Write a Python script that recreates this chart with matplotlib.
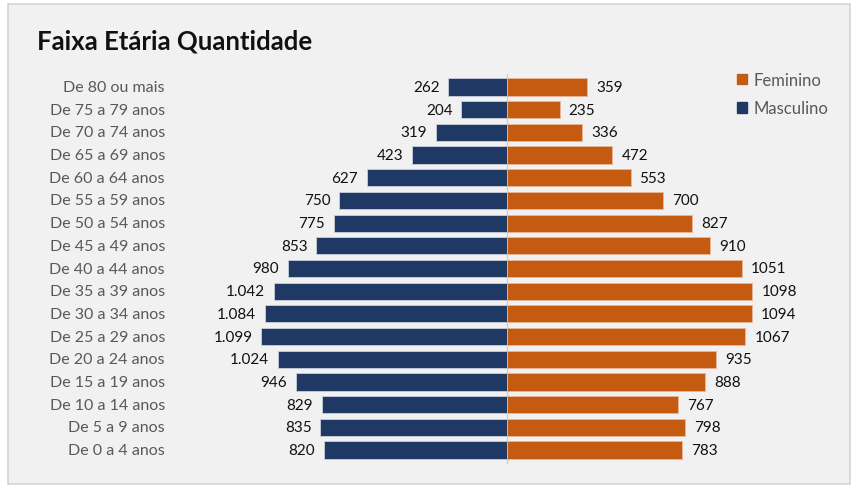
import matplotlib.pyplot as plt
from matplotlib.patches import Rectangle, Patch

# faixas etarias, de baixo para cima
faixas = ['De 0 a 4 anos', 'De 5 a 9 anos', 'De 10 a 14 anos', 'De 15 a 19 anos',
          'De 20 a 24 anos', 'De 25 a 29 anos', 'De 30 a 34 anos', 'De 35 a 39 anos',
          'De 40 a 44 anos', 'De 45 a 49 anos', 'De 50 a 54 anos', 'De 55 a 59 anos',
          'De 60 a 64 anos', 'De 65 a 69 anos', 'De 70 a 74 anos', 'De 75 a 79 anos',
          'De 80 ou mais']
masculino = [820, 835, 829, 946, 1024, 1099, 1084, 1042, 980, 853, 775, 750, 627, 423, 319, 204, 262]
feminino = [783, 798, 767, 888, 935, 1067, 1094, 1098, 1051, 910, 827, 700, 553, 472, 336, 235, 359]
rotulos_masc = ['820', '835', '829', '946', '1.024', '1.099', '1.084', '1.042', '980', '853',
                '775', '750', '627', '423', '319', '204', '262']

COR_MASC = '#203864'
COR_FEM = '#c55a11'
W, H = 854, 489

plt.rcParams['font.family'] = ['Lato', 'DejaVu Sans']

fig = plt.figure(figsize=(W / 100, H / 100), dpi=100)
fig.patch.set_facecolor('white')

# moldura do grafico
fig.patches.append(Rectangle((8 / W, 1 - 485 / H), 842 / W, 480 / H, transform=fig.transFigure,
                             facecolor='#f1f1f1', edgecolor='#d4d4d4', lw=1.2, zorder=-5))

# eixo: centro em x=507px, 0.223 px por unidade
left_px, right_px = 200, 814
top_px, bot_px = 75, 465
ax = fig.add_axes([left_px / W, 1 - bot_px / H, (right_px - left_px) / W, (bot_px - top_px) / H])
ax.set_zorder(2)
ax.set_facecolor('none')
scale = 0.2235
ax.set_xlim(-(507 - left_px) / scale, (right_px - 507) / scale)
row = (451 - 88) / 16
ax.set_ylim(-(bot_px - 451) / row, 16 + (88 - top_px) / row)

y = list(range(len(faixas)))
ax.barh(y, [-m for m in masculino], height=0.76, color=COR_MASC, edgecolor='#c8cfdb', lw=0.6, zorder=2)
ax.barh(y, feminino, height=0.76, color=COR_FEM, edgecolor='#e8b898', lw=0.6, zorder=2)
ax.axvline(0, color='#d0d0d0', lw=1, zorder=1)

for i in y:
    ax.text(-masculino[i] - 40, i, rotulos_masc[i], ha='right', va='center', fontsize=11, color='#111111')
    ax.text(feminino[i] + 40, i, str(feminino[i]), ha='left', va='center', fontsize=11, color='#111111')

for s in ax.spines.values():
    s.set_visible(False)
ax.set_xticks([])
ax.set_yticks([])

# rotulos das faixas
for i, f in enumerate(faixas):
    ypx = 451 - i * row
    fig.text(165 / W, 1 - ypx / H, f, ha='right', va='center', fontsize=11.5, color='#595959')

fig.text(37 / W, 1 - 42 / H, 'Faixa Etária Quantidade', ha='left', va='center',
         fontsize=18.5, fontweight='bold', color='#111111')

handles = [Patch(color=COR_FEM, label='Feminino'), Patch(color=COR_MASC, label='Masculino')]
fig.legend(handles=handles, loc='upper left', bbox_to_anchor=(722 / W, 1 - 58 / H), frameon=False,
           fontsize=12, labelcolor='#595959', handlelength=0.6, handleheight=0.6,
           handletextpad=0.4, labelspacing=0.75)

fig.savefig('out.png', dpi=100)
